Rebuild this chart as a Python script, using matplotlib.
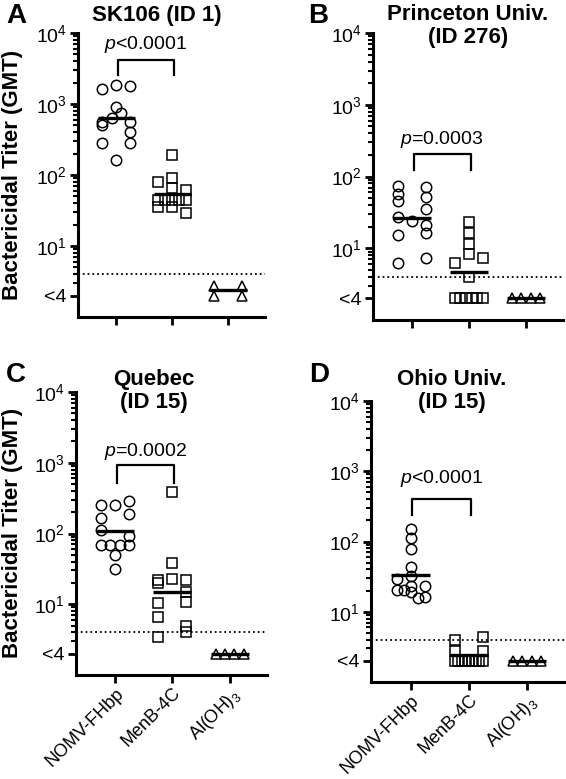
import matplotlib
matplotlib.use("Agg")
import matplotlib.pyplot as plt
from matplotlib.ticker import LogLocator, NullFormatter
import numpy as np

plt.rcParams['font.family'] = ['Liberation Sans', 'DejaVu Sans']
plt.rcParams['mathtext.fontset'] = 'custom'
plt.rcParams['mathtext.rm'] = 'Liberation Sans'
plt.rcParams['mathtext.it'] = 'Liberation Sans:italic'
plt.rcParams['mathtext.bf'] = 'Liberation Sans:bold'

groups = ["NOMV-FHbp", "MenB-4C", "Al(OH)$_3$"]
markers = ["o", "s", "^"]

# titers (<4 plotted at 2)
a_nomv = [1620, 1870, 1780, 920, 566, 630, 740, 508, 566, 400, 286, 286, 162]
a_menb = [191, 90, 80, 65, 61, 45, 45, 45, 45, 45, 36, 36, 29]
a_alum = [2.7, 2.7, 2, 2]
a_gmt = [630, 54, 2.37]

b_nomv = [74, 71, 57, 45, 52, 35, 27.7, 24.3, 21.2, 15.4, 16.5, 6.2, 7.3]
b_menb = [23.5, 16.5, 11.4, 8.3, 6.2, 7.3, 4.0, 2, 2, 2, 2, 2, 2]
b_alum = [2, 2, 2, 2]
b_gmt = [26.8, 4.7, 2]

c_nomv = [251, 251, 286, 168, 188, 111, 92, 68, 68, 68, 68, 49, 32]
c_menb = [387, 38.5, 21.9, 23, 19.7, 21.9, 15, 10.5, 10.8, 6.5, 5.0, 3.5, 4.0]
c_alum = [2, 2, 2, 2]
c_gmt = [108, 15, 2]

d_nomv = [153, 111, 78, 44, 32, 29, 23.3, 23.3, 20.5, 20.5, 19.2, 15.8, 16.3]
d_menb = [2.8, 3.9, 4.4, 2.8, 2, 2, 2, 2, 2, 2, 2, 2, 2]
d_alum = [2, 2, 2, 2]
d_gmt = [33.6, 2.4, 2]

titles = ["SK106 (ID 1)", "Princeton Univ.\n(ID 276)", "Quebec\n(ID 15)", "Ohio Univ.\n(ID 15)"]
letters = ["A", "B", "C", "D"]
pvals = ["$\\mathit{p}$<0.0001", "$\\mathit{p}$=0.0003", "$\\mathit{p}$=0.0002", "$\\mathit{p}$<0.0001"]
# bracket: top, leg end, text height
brackets = [(4200, 2600, 6800), (207, 124, 324), (922, 525, 1420), (398, 237, 778)]
lod = 4

W, H = 566, 779
fig = plt.figure(figsize=(W / 100, H / 100), dpi=100)

# axes boxes in pixels: left, right, top, bottom
boxes = [(78, 265, 33, 317), (373, 563, 33, 320), (76, 267, 392, 675), (371, 565, 401, 682)]
title_pos = [(157, 15), (468, 26), (154, 391), (452, 391)]
letter_pos = [(16, 16), (318, 16), (16, 375), (319, 375)]


def swarm_x(ax, x0, vals, maxw=28, thr=8.5):
    pts = ax.transData.transform(np.column_stack([np.full(len(vals), x0), vals]))
    ys = pts[:, 1]
    order = sorted(range(len(vals)), key=lambda i: ys[i])
    rows = []
    for i in order:
        if rows and ys[i] - ys[rows[-1][0]] < thr:
            rows[-1].append(i)
        else:
            rows.append([i])
    xs = np.full(len(vals), pts[0, 0])
    for row in rows:
        row = sorted(row)
        n = len(row)
        if n == 1:
            continue
        step = maxw / (n - 1)
        for k, i in enumerate(row):
            xs[i] = pts[0, 0] + (k - (n - 1) / 2) * step
    inv = ax.transData.inverted()
    return inv.transform(np.column_stack([xs, ys]))[:, 0]


panels = [
    (a_nomv, a_menb, a_alum, a_gmt),
    (b_nomv, b_menb, b_alum, b_gmt),
    (c_nomv, c_menb, c_alum, c_gmt),
    (d_nomv, d_menb, d_alum, d_gmt),
]

for p, (l, r, t, b) in enumerate(boxes):
    ax = fig.add_axes([l / W, 1 - b / H, (r - l) / W, (b - t) / H])
    ax.set_yscale('log')
    ax.set_ylim(1, 1e4)
    ax.set_xlim(-0.68, 2.65)
    for s in ['top', 'right']:
        ax.spines[s].set_visible(False)
    for s in ['left', 'bottom']:
        ax.spines[s].set_linewidth(2.2)
    ax.set_yticks([2, 10, 100, 1000, 10000])
    ax.set_yticklabels(['<4', '$10^1$', '$10^2$', '$10^3$', '$10^4$'])
    ax.yaxis.set_minor_locator(LogLocator(base=10, subs=np.arange(2, 10), numticks=20))
    ax.yaxis.set_minor_formatter(NullFormatter())
    ax.set_xticks([0, 1, 2])
    if p >= 2:
        ax.set_xticklabels(groups, rotation=45, ha='right', rotation_mode='anchor')
    else:
        ax.set_xticklabels([])
    ax.tick_params(which='major', direction='out', length=6, width=2, labelsize=14, pad=2)
    ax.tick_params(axis='x', labelsize=13, pad=1)
    ax.tick_params(which='minor', direction='out', length=3.5, width=1.5)

    ax.axhline(lod, color='black', ls=':', lw=1.3)

    data = panels[p]
    for g in range(3):
        vals = data[g]
        xs = swarm_x(ax, g, vals)
        ax.plot(xs, vals, ls='none', marker=markers[g], ms=7.5 if g == 0 else 7,
                mfc='none', mec='black', mew=1.1, clip_on=False)
        ax.plot([g - 0.33, g + 0.33], [data[3][g], data[3][g]], color='black', lw=2.4,
                solid_capstyle='butt')

    top, leg, ty = brackets[p]
    ax.plot([0.03, 0.03, 1.03, 1.03], [leg, top, top, leg], color='black', lw=1.6)
    ax.text(0.53, ty, pvals[p], ha='center', va='center', fontsize=14)

    tx, tyy = title_pos[p]
    fig.text(tx / W, 1 - tyy / H, titles[p], ha='center', va='center',
             fontsize=16, fontweight='bold', linespacing=1.15)
    lx, ly = letter_pos[p]
    fig.text(lx / W, 1 - ly / H, letters[p], ha='center', va='center',
             fontsize=20, fontweight='bold')

fig.text(13 / W, 1 - 175 / H, 'Bactericidal Titer (GMT)', rotation=90,
         ha='center', va='center', fontsize=16, fontweight='bold')
fig.text(13 / W, 1 - 533 / H, 'Bactericidal Titer (GMT)', rotation=90,
         ha='center', va='center', fontsize=16, fontweight='bold')

fig.savefig('out.png', dpi=100)
